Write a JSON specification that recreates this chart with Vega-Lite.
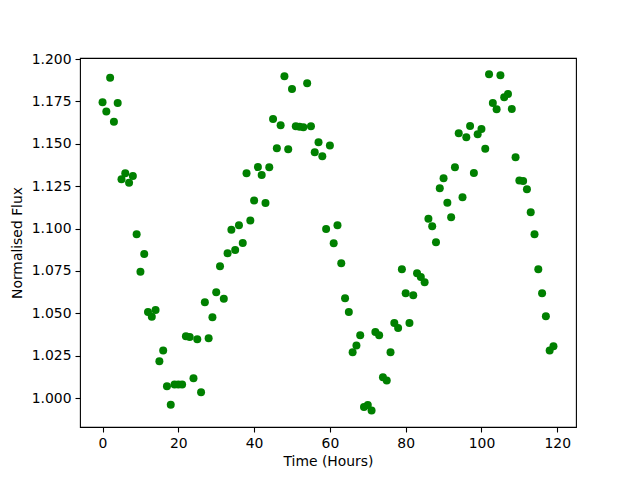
{
  "$schema": "https://vega.github.io/schema/vega-lite/v6.json",
  "width": 496,
  "height": 369,
  "autosize": {"type": "none"},
  "padding": {"left": 80, "top": 58, "right": 64, "bottom": 53},
  "background": "white",
  "config": {
    "view": {"stroke": "black", "strokeWidth": 1.1},
    "font": "DejaVu Sans",
    "axis": {
      "grid": false,
      "domain": false,
      "tickColor": "black",
      "tickSize": 5,
      "tickWidth": 1.1,
      "labelFont": "DejaVu Sans",
      "labelFontSize": 13.9,
      "labelColor": "black",
      "labelPadding": 4,
      "titleFont": "DejaVu Sans",
      "titleFontSize": 13.9,
      "titleFontWeight": "normal",
      "titleColor": "black"
    }
  },
  "data": {
    "values": [
      {"t": 0, "f": 1.1745}, {"t": 1, "f": 1.169}, {"t": 2, "f": 1.189}, {"t": 3, "f": 1.163}, {"t": 4, "f": 1.174},
      {"t": 5, "f": 1.129}, {"t": 6, "f": 1.1326}, {"t": 7, "f": 1.127}, {"t": 8, "f": 1.131}, {"t": 9, "f": 1.0966},
      {"t": 10, "f": 1.0745}, {"t": 11, "f": 1.085}, {"t": 12, "f": 1.0507}, {"t": 13, "f": 1.048}, {"t": 14, "f": 1.052},
      {"t": 15, "f": 1.0217}, {"t": 16, "f": 1.028}, {"t": 17, "f": 1.007}, {"t": 18, "f": 0.996}, {"t": 19, "f": 1.008},
      {"t": 20, "f": 1.008}, {"t": 21, "f": 1.008}, {"t": 22, "f": 1.0364}, {"t": 23, "f": 1.036}, {"t": 24, "f": 1.0116},
      {"t": 25, "f": 1.0346}, {"t": 26, "f": 1.0034}, {"t": 27, "f": 1.0565}, {"t": 28, "f": 1.0352}, {"t": 29, "f": 1.0476},
      {"t": 30, "f": 1.0624}, {"t": 31, "f": 1.0777}, {"t": 32, "f": 1.0586}, {"t": 33, "f": 1.0854}, {"t": 34, "f": 1.0993},
      {"t": 35, "f": 1.0873}, {"t": 36, "f": 1.1019}, {"t": 37, "f": 1.0915}, {"t": 38, "f": 1.1326}, {"t": 39, "f": 1.1048},
      {"t": 40, "f": 1.1166}, {"t": 41, "f": 1.1363}, {"t": 42, "f": 1.1316}, {"t": 43, "f": 1.115}, {"t": 44, "f": 1.1361},
      {"t": 45, "f": 1.1646}, {"t": 46, "f": 1.1473}, {"t": 47, "f": 1.1609}, {"t": 48, "f": 1.1898}, {"t": 49, "f": 1.1467},
      {"t": 50, "f": 1.1823}, {"t": 51, "f": 1.1603}, {"t": 52, "f": 1.16}, {"t": 53, "f": 1.1597}, {"t": 54, "f": 1.1857},
      {"t": 55, "f": 1.1603}, {"t": 56, "f": 1.145}, {"t": 57, "f": 1.1509}, {"t": 58, "f": 1.1426}, {"t": 59, "f": 1.0997},
      {"t": 60, "f": 1.149}, {"t": 61, "f": 1.0913}, {"t": 62, "f": 1.1019}, {"t": 63, "f": 1.0795}, {"t": 64, "f": 1.0588},
      {"t": 65, "f": 1.0507}, {"t": 66, "f": 1.027}, {"t": 67, "f": 1.031}, {"t": 68, "f": 1.037}, {"t": 69, "f": 0.9947},
      {"t": 70, "f": 0.9959}, {"t": 71, "f": 0.9927}, {"t": 72, "f": 1.0389}, {"t": 73, "f": 1.037}, {"t": 74, "f": 1.0122},
      {"t": 75, "f": 1.0104}, {"t": 76, "f": 1.027}, {"t": 77, "f": 1.0442}, {"t": 78, "f": 1.0413}, {"t": 79, "f": 1.0759},
      {"t": 80, "f": 1.0618}, {"t": 81, "f": 1.0442}, {"t": 82, "f": 1.0606}, {"t": 83, "f": 1.0736}, {"t": 84, "f": 1.0714},
      {"t": 85, "f": 1.0683}, {"t": 86, "f": 1.1058}, {"t": 87, "f": 1.1013}, {"t": 88, "f": 1.0919}, {"t": 89, "f": 1.1237},
      {"t": 90, "f": 1.1296}, {"t": 91, "f": 1.1152}, {"t": 92, "f": 1.1066}, {"t": 93, "f": 1.1361}, {"t": 94, "f": 1.1562},
      {"t": 95, "f": 1.1184}, {"t": 96, "f": 1.1538}, {"t": 97, "f": 1.1605}, {"t": 98, "f": 1.1327}, {"t": 99, "f": 1.1556},
      {"t": 100, "f": 1.1587}, {"t": 101, "f": 1.147}, {"t": 102, "f": 1.191}, {"t": 103, "f": 1.174}, {"t": 104, "f": 1.1703},
      {"t": 105, "f": 1.1904}, {"t": 106, "f": 1.1774}, {"t": 107, "f": 1.1794}, {"t": 108, "f": 1.1705}, {"t": 109, "f": 1.142},
      {"t": 110, "f": 1.1284}, {"t": 111, "f": 1.128}, {"t": 112, "f": 1.1231}, {"t": 113, "f": 1.1096}, {"t": 114, "f": 1.0966},
      {"t": 115, "f": 1.0759}, {"t": 116, "f": 1.0618}, {"t": 117, "f": 1.0482}, {"t": 118, "f": 1.0281}, {"t": 119, "f": 1.0305}
    ]
  },
  "mark": {"type": "circle", "color": "#008000", "opacity": 1, "size": 64},
  "encoding": {
    "x": {
      "field": "t", "type": "quantitative",
      "scale": {"domain": [-5.95, 124.95], "nice": false, "zero": false},
      "axis": {"values": [0, 20, 40, 60, 80, 100, 120], "title": "Time (Hours)", "titlePadding": 5}
    },
    "y": {
      "field": "f", "type": "quantitative",
      "scale": {"domain": [0.9829, 1.2006], "nice": false, "zero": false},
      "axis": {"values": [1.0, 1.025, 1.05, 1.075, 1.1, 1.125, 1.15, 1.175, 1.2], "format": ".3f", "title": "Normalised Flux", "titlePadding": 7}
    }
  }
}
